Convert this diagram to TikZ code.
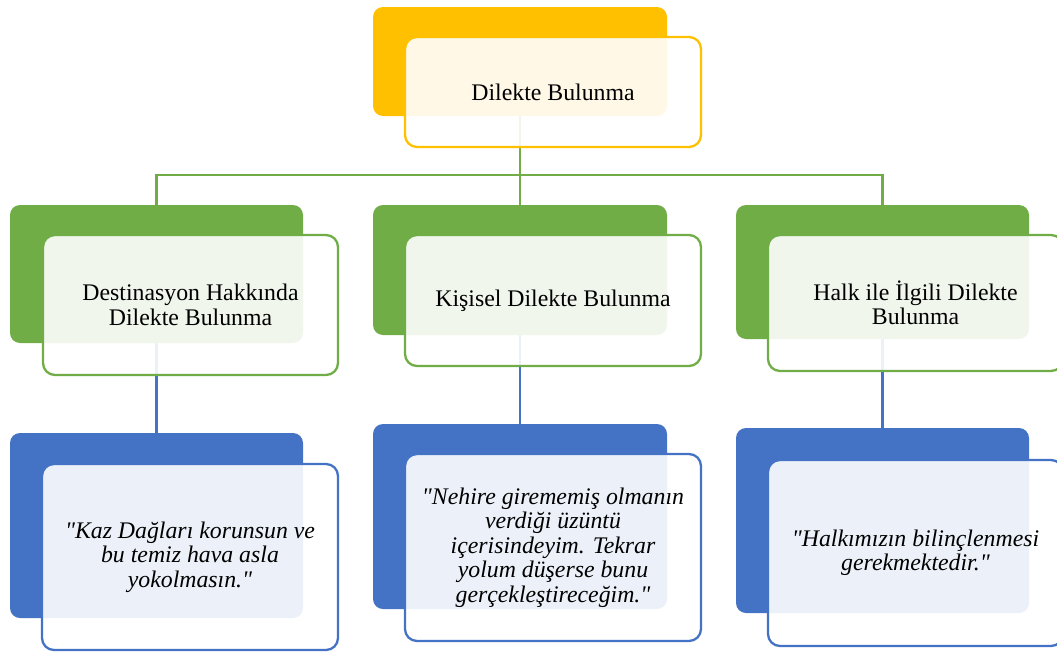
\documentclass[tikz,border=0pt]{standalone}
\usepackage{fontspec}
\setmainfont{Liberation Serif}
\definecolor{gold}{HTML}{FFC000}
\definecolor{leaf}{HTML}{70AD47}
\definecolor{sea}{HTML}{4472C4}
\tikzset{
  back/.style={rectangle, rounded corners=10pt, inner sep=0pt, draw=none, fill=#1},
  front/.style={rectangle, rounded corners=12pt, inner sep=0pt, draw=#1, line width=2.3pt,
    fill=white, fill opacity=0.9, text opacity=1, align=center, text=black,
    font=\fontsize{23.8}{24.5}\selectfont},
  quote/.style={font=\fontsize{23.8}{24.5}\selectfont\itshape},
  link/.style={draw=#1, line width=2.3pt},
  sz/.style 2 args={minimum width=#1pt, minimum height=#2pt}
}
\begin{document}
\begin{tikzpicture}[x=1pt,y=-1pt]
\useasboundingbox (0,0) rectangle (1057,653);

% coloured back panels
\node[back=gold, sz={294}{109}] (topb) at (520,61.5) {};
\node[back=leaf, sz={293}{138}] (l2ab) at (156.5,274) {};
\node[back=leaf, sz={294}{130}] (l2bb) at (520,270) {};
\node[back=leaf, sz={293}{134}] (l2cb) at (882.5,272) {};
\node[back=sea, sz={293}{185}] (l3ab) at (156.5,525.5) {};
\node[back=sea, sz={294}{185}] (l3bb) at (520,516.5) {};
\node[back=sea, sz={293}{185}] (l3cb) at (882.5,520.5) {};

% connectors
\coordinate (bus) at (520,175);
\draw[link=leaf] (topb.south) -- (bus);
\draw[link=leaf] (bus) -| (l2ab.north);
\draw[link=leaf] (bus) -- (l2bb.north);
\draw[link=leaf] (bus) -| (l2cb.north);
\draw[link=sea] (l2ab.south) -- (l3ab.north);
\draw[link=sea] (l2bb.south) -- (l3bb.north);
\draw[link=sea] (l2cb.south) -- (l3cb.north);

% text panels
\node[front=gold, sz={296}{110}] (top) at (553,92) {Dilekte Bulunma};
\node[front=leaf, sz={295}{140}] (l2a) at (190.5,305) {Destinasyon Hakkında\\Dilekte Bulunma};
\node[front=leaf, sz={296}{131}] (l2b) at (553,300.5) {Kişisel Dilekte Bulunma};
\node[front=leaf, sz={295}{136}] (l2c) at (915.5,303) {Halk ile İlgili Dilekte\\Bulunma};
\node[front=sea, sz={296}{186}, quote] (l3a) at (190,557)
  {\textquotedbl Kaz Dağları korunsun ve\\bu temiz hava asla\\yokolmasın.\textquotedbl};
\node[front=sea, sz={296}{187}, quote] (l3b) at (553,547.5)
  {\textquotedbl Nehire girememiş olmanın\\verdiği üzüntü\\içerisindeyim. Tekrar\\yolum düşerse bunu\\gerçekleştireceğim.\textquotedbl};
\node[front=sea, sz={295}{186}, quote] (l3c) at (915.5,553)
  {\textquotedbl Halkımızın bilinçlenmesi\\gerekmektedir.\textquotedbl};
\end{tikzpicture}
\end{document}
